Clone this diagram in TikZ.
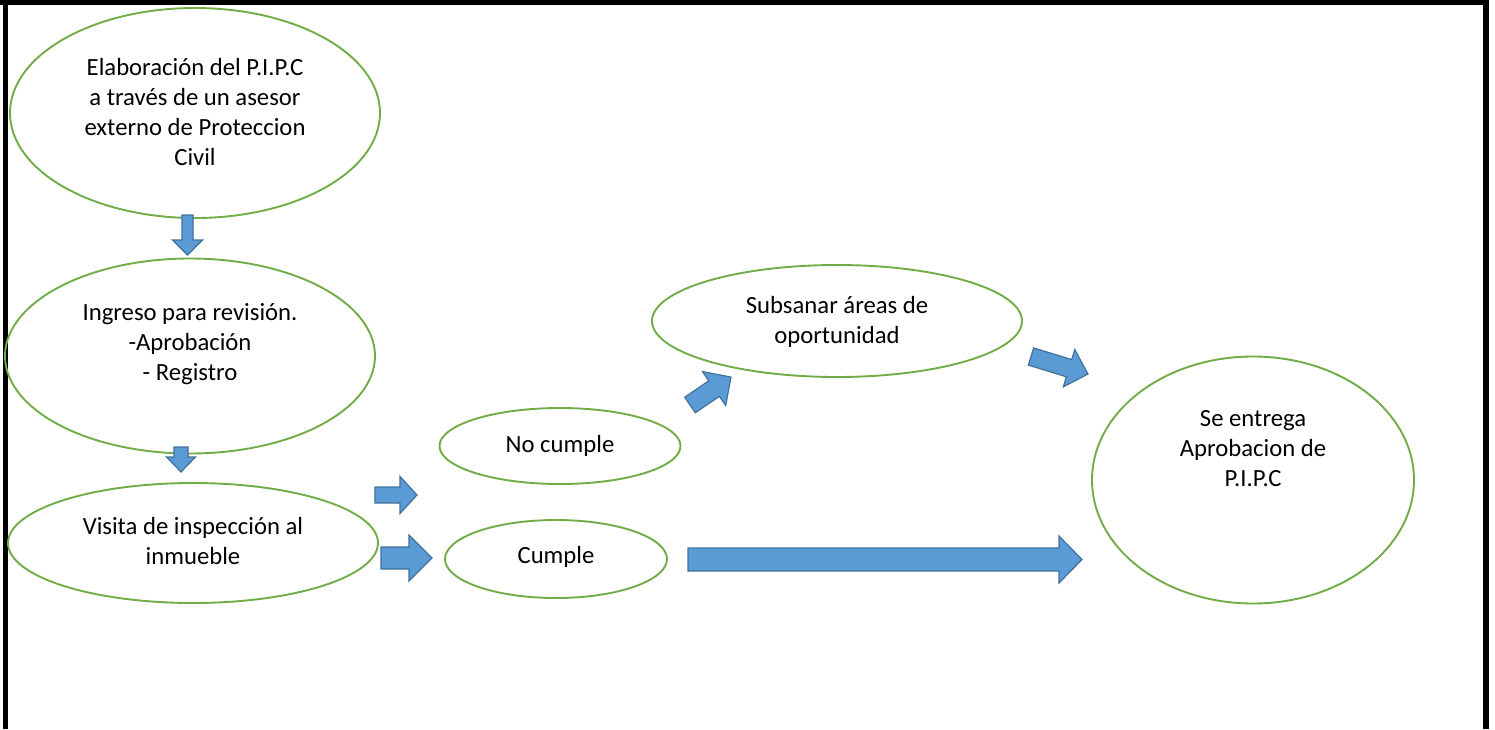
\documentclass[tikz,border=0pt]{standalone}
\usepackage{fontspec}
\setmainfont{Carlito}
\usetikzlibrary{shapes.geometric}
\definecolor{ellgreen}{HTML}{70AD47}
\definecolor{arrfill}{HTML}{5B9BD5}
\definecolor{arrline}{HTML}{41719C}
\newcommand\blockarrow[7]{% name, tail point, angle, length, shaft half width, head half width, head length
  \begin{scope}[shift={(#2)},rotate=#3]
    \draw[arrowshape] (0,-#5) -- ({#4-#7},-#5) -- ({#4-#7},-#6) -- (#4,0) -- ({#4-#7},#6) -- ({#4-#7},#5) -- (0,#5) -- cycle;
    \coordinate (#1) at (#4,0);
  \end{scope}}
\begin{document}
\begin{tikzpicture}[x=1pt,y=-1pt,
  bubble/.style={draw=ellgreen,line width=1.9pt,ellipse,inner sep=0pt},
  txt/.style={align=center,font=\fontsize{24.7}{30}\selectfont,inner sep=0pt,anchor=base},
  arrowshape/.style={fill=arrfill,draw=arrline,line width=1.2pt,line join=miter}]
\useasboundingbox (0,0) rectangle (1495,729);
\fill[black] (0,0) rectangle (1489,5);
\fill[black] (3,0) rectangle (8,729);
\fill[black] (1483,0) rectangle (1489,729);

% ellipses
\node[bubble,minimum width=370pt,minimum height=210pt] (e1) at (195,113) {};
\node[bubble,minimum width=370pt,minimum height=195pt] (e2) at (190,356) {};
\node[bubble,minimum width=370pt,minimum height=120pt] (e3) at (193,543) {};
\node[bubble,minimum width=241pt,minimum height=76pt] (nc) at (560,446) {};
\node[bubble,minimum width=222pt,minimum height=78pt] (cu) at (556,559) {};
\node[bubble,minimum width=370pt,minimum height=112pt] (sub) at (837,321) {};
\node[bubble,minimum width=322pt,minimum height=247pt] (ent) at (1253,480) {};

% texts (anchor base = baseline of the last line)
\node[txt] (t1) at (195,165) {Elaboración del P.I.P.C\\a través de un asesor\\externo de Proteccion\\Civil};
\node[txt] (t2) at (190,380) {Ingreso para revisión.\\-Aprobación\\- Registro};
\node[txt] (t3) at (193,564) {Visita de inspección al\\inmueble};
\node[txt] (t4) at (560,452) {No cumple};
\node[txt] (t5) at (556,563) {Cumple};
\node[txt] (t6) at (837,343) {Subsanar áreas de\\oportunidad};
\node[txt] (t7) at (1253,486) {Se entrega\\Aprobacion de\\P.I.P.C};

% block arrows
\blockarrow{a1}{187.5,215}{-90}{40}{5.5}{15}{15}
\blockarrow{a2}{181,447}{-90}{25}{7}{14.5}{15}
\blockarrow{a3}{375,495}{0}{42}{8}{18.5}{17}
\blockarrow{a4}{381,558}{0}{51}{11}{23}{23}
\blockarrow{a5}{688,559.5}{0}{394}{11.5}{23.5}{23}
\blockarrow{a6}{690,405}{34.3}{49.6}{9.4}{20.5}{20.4}
\blockarrow{a7}{1031,356.5}{-17.1}{59.6}{9}{19.5}{19.8}
\end{tikzpicture}
\end{document}
